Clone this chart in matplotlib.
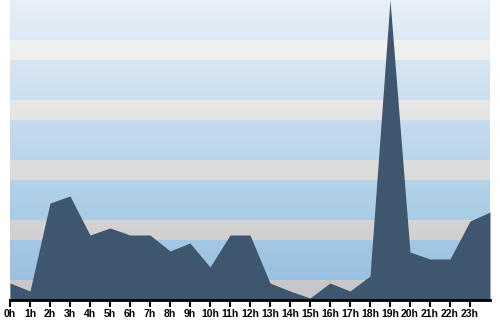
import numpy as np
import matplotlib
matplotlib.use('Agg')
import matplotlib.pyplot as plt

# hourly values (last point is the right edge, 24h)
hours = list(range(25))
values = [17, 9, 97, 104, 65, 72, 65, 65, 49, 57, 33, 65, 65,
          17, 9, 2, 17, 9, 24, 300, 48, 41, 41, 79, 88]
tick_labels = ['%dh' % h for h in range(24)]

fig = plt.figure(figsize=(5, 3.2), dpi=100)
ax = fig.add_axes([0.02, 0.0625, 0.96, 0.9375])

ymax = max(values)

# striped background: 40px blue band then 20px grey band, gradient top->bottom
n = 300
rows = np.arange(n)
frac = rows / (n - 1)
blue_top = np.array([0xe7, 0xef, 0xf7]) / 255
blue_bot = np.array([0x93, 0xbe, 0xdf]) / 255
grey_top = np.array([0xf8, 0xf8, 0xf8]) / 255
grey_bot = np.array([0xc6, 0xc6, 0xc8]) / 255
img = np.zeros((n, 1, 3))
for r in rows:
    f = frac[r]
    if (r % 60) < 40:
        img[r, 0] = blue_top + (blue_bot - blue_top) * f
    else:
        img[r, 0] = grey_top + (grey_bot - grey_top) * f
ax.imshow(img, extent=[0, 24, 0, ymax], aspect='auto', origin='upper',
          interpolation='nearest', zorder=0)

ax.fill_between(hours, values, 0, color='#3f566f', lw=0, zorder=2)

ax.set_xlim(0, 24)
ax.set_ylim(0, ymax)
ax.set_xticks(range(24))
ax.set_xticklabels(tick_labels, fontsize=7.5, fontweight='bold',
                   family='Liberation Sans')
ax.set_yticks([])
for s in ['top', 'left', 'right']:
    ax.spines[s].set_visible(False)
ax.spines['bottom'].set_linewidth(2)
ax.spines['bottom'].set_zorder(3)
ax.tick_params(axis='x', length=5, width=1.5, pad=1.5, color='black')

plt.savefig('out.png', dpi=100)
